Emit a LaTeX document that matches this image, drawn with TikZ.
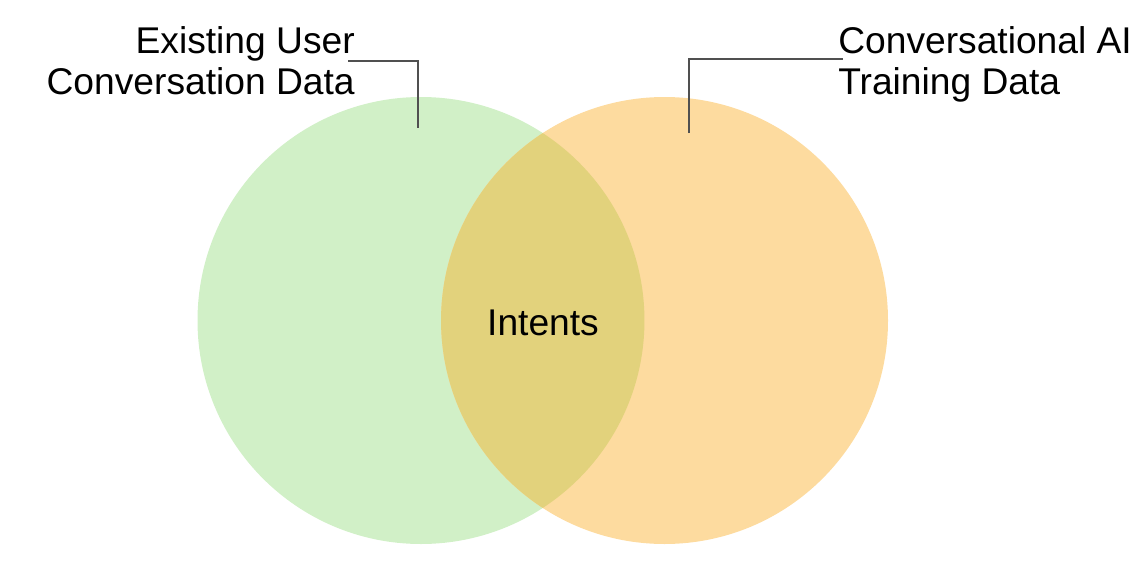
\documentclass[tikz,border=0pt]{standalone}
\usepackage{fontspec}
\setmainfont{Liberation Sans}
\usepackage{tikz}
\usetikzlibrary{positioning}

\definecolor{usergreen}{RGB}{209,240,199}
\definecolor{trainorange}{RGB}{253,219,159}
\definecolor{bothfill}{RGB}{226,210,124}
\definecolor{leadgray}{RGB}{80,80,80}

\begin{document}
\begin{tikzpicture}[x=0.75pt, y=-0.75pt, font=\fontsize{27.9}{30.75}\selectfont,
	venn/.style={circle, inner sep=0pt, minimum size=335.25pt},
	label text/.style={inner sep=0pt},
	leader/.style={draw=leadgray, line width=1.1pt}]
	\useasboundingbox (0,0) rectangle (1148,560);
	
	% Define circles
	\node [venn, fill=usergreen] (user) at (421,320.5) {};
	\node [venn, fill=trainorange] (train) at (664.5,320.5) {};
	
	% Overlap of the two sets
	\begin{scope}
		\clip (user.center) circle (167.6pt);
		\fill [bothfill] (train.center) circle (167.6pt);
	\end{scope}
	
	% Define labels
	\node [label text, anchor=north east, align=right] (userlabel) at (355,26.5) {Existing User\\Conversation Data};
	\node [label text, anchor=north west, align=left] (trainlabel) at (838,26.5) {Conversational AI\\Training Data};
	\node [label text, anchor=base] (intents) at (543,335) {Intents};
	
	% Leader lines from labels into circles
	\coordinate (userend) at (418,128);
	\coordinate (trainend) at (689,133);
	\draw [leader] ([xshift=-5.25pt]userlabel.east) -| (userend);
	\draw [leader] (trainend) |- ([xshift=3.75pt, yshift=4.1pt]trainlabel.west);
\end{tikzpicture}
\end{document}
